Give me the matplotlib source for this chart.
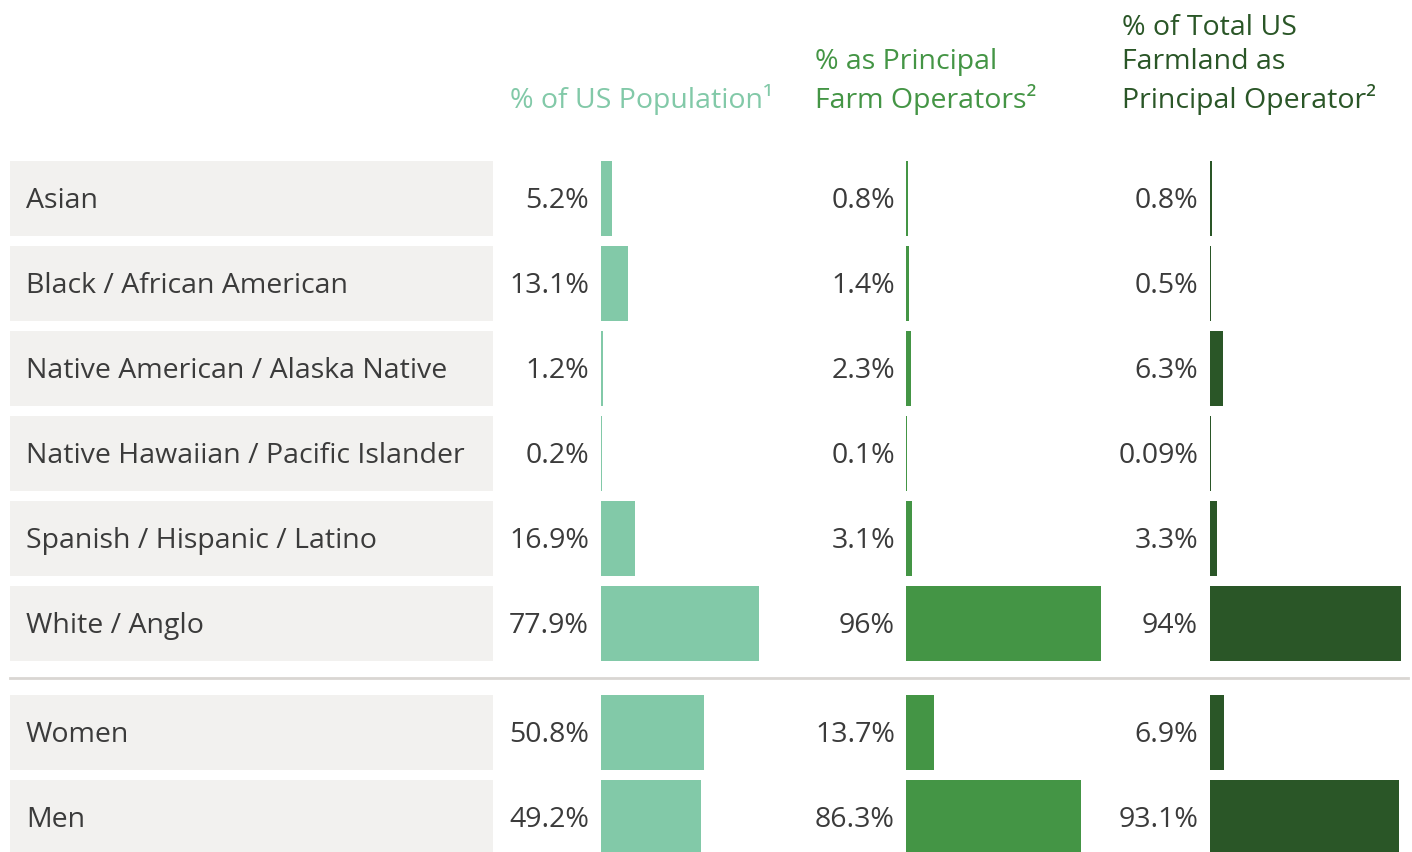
import matplotlib.pyplot as plt
from matplotlib.patches import Rectangle

# data
groups = ['Asian', 'Black / African American', 'Native American / Alaska Native',
          'Native Hawaiian / Pacific Islander', 'Spanish / Hispanic / Latino',
          'White / Anglo', 'Women', 'Men']
us_pop = [5.2, 13.1, 1.2, 0.2, 16.9, 77.9, 50.8, 49.2]
operators = [0.8, 1.4, 2.3, 0.1, 3.1, 96, 13.7, 86.3]
farmland = [0.8, 0.5, 6.3, 0.09, 3.3, 94, 6.9, 93.1]
pop_lbl = ['5.2%', '13.1%', '1.2%', '0.2%', '16.9%', '77.9%', '50.8%', '49.2%']
op_lbl = ['0.8%', '1.4%', '2.3%', '0.1%', '3.1%', '96%', '13.7%', '86.3%']
farm_lbl = ['0.8%', '0.5%', '6.3%', '0.09%', '3.3%', '94%', '6.9%', '93.1%']
headers = ['% of US Population\u00b9', '% as Principal\nFarm Operators\u00b2',
           '% of Total US\nFarmland as\nPrincipal Operator\u00b2']

colors = ['#82C9A8', '#449545', '#2A5627']
text_col = '#3b3b3b'
fonts = ['Open Sans', 'DejaVu Sans']

fig = plt.figure(figsize=(14.12, 8.52), dpi=100)
ax = fig.add_axes([0, 0, 1, 1])
ax.set_xlim(0, 1412)
ax.set_ylim(852, 0)
ax.axis('off')

row_y = [198, 283, 368, 453, 538, 623, 732, 817]
row_h = 75
scale = 2.03  # px per percent
bar_x = [601, 906, 1210]
val_x = [589, 895, 1198]

for i, g in enumerate(groups):
    y = row_y[i]
    ax.add_patch(Rectangle((10, y - row_h / 2), 483, row_h, color='#F2F1EF', lw=0))
    ax.text(26, y + 3, g, fontsize=20.5, color=text_col, va='center', ha='left', family=fonts)

for c, (vals, lbls) in enumerate([(us_pop, pop_lbl), (operators, op_lbl), (farmland, farm_lbl)]):
    widths = [max(v * scale, 1.2) for v in vals]
    ax.barh(row_y, widths, height=row_h, left=bar_x[c], color=colors[c], lw=0)
    for y, l in zip(row_y, lbls):
        ax.text(val_x[c], y + 3, l, fontsize=20.5, color=text_col, va='center', ha='right',
                family=fonts)

# separator
ax.plot([10, 1408], [678, 678], color='#D9D6D3', lw=2)

# headers
head_x = [510, 815, 1122]
for c, h in enumerate(headers):
    ax.text(head_x[c], 115, h, fontsize=20.5, color=colors[c], va='bottom', ha='left',
            linespacing=1.32, family=fonts)

plt.savefig('out.png', dpi=100)
